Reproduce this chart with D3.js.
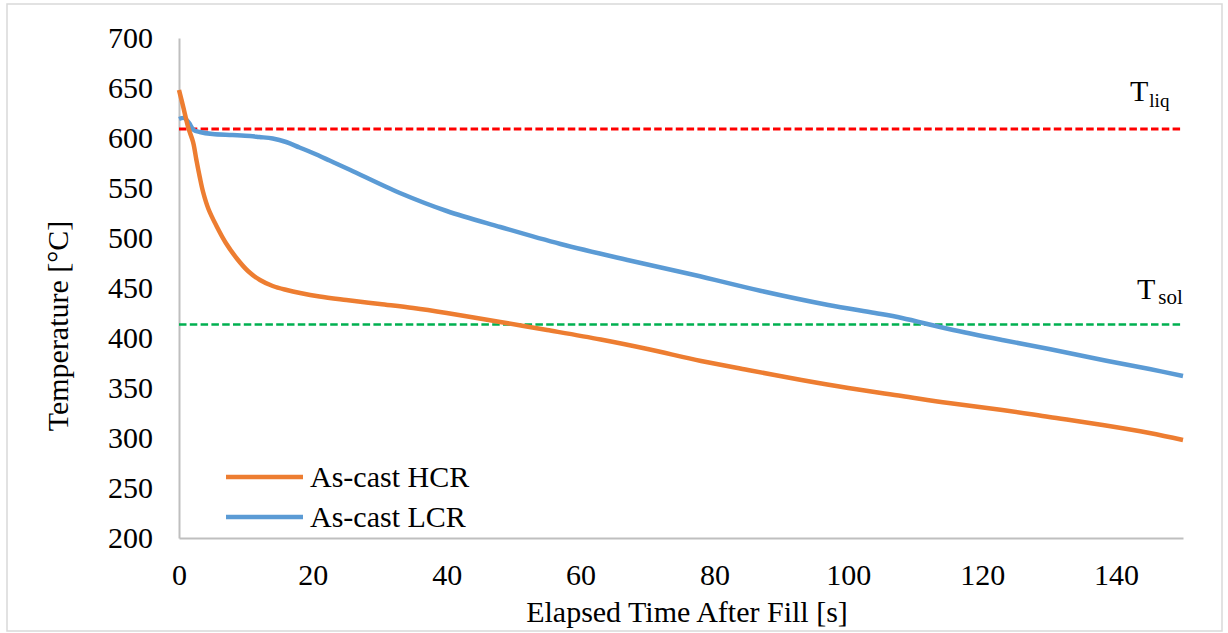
<!DOCTYPE html>
<html>
<head>
<meta charset="utf-8">
<script src="https://cdn.jsdelivr.net/npm/d3@7"></script>
<style>
  body { margin: 0; background: #fff; }
  svg { display: block; }
  svg text { font-family: "Liberation Serif", "Times New Roman", Tinos, "DejaVu Serif", serif !important; fill: #000; }
</style>
</head>
<body>
<div id="chart"></div>
<script>
// Elapsed time [s] and temperature [°C]
const hcrTime = [0, 0.6, 1.4, 2.1, 2.6, 3.1, 3.6, 4.4, 5.6, 7.0, 8.7, 10.3, 12.1, 14, 16.1, 18.1, 21, 25, 30, 35, 40, 48, 55, 63, 70, 78, 85, 93, 100, 108, 115, 123, 130, 138, 145, 150];
const hcrTemp = [648, 632, 610, 596, 578, 561, 546, 529, 512, 495, 479, 467, 458, 452, 448, 445, 441.5, 438, 434, 430, 425, 416, 408, 398.5, 389, 377, 368, 358, 350, 342, 335, 328, 321, 313, 305, 298];

const lcrTime = [0, 0.8, 1.5, 2.2, 3.1, 5, 8, 10.6, 12, 14, 16, 18, 20, 22.5, 25.6, 33, 40, 48, 57, 67, 77, 87, 97, 104, 108, 115, 123, 130, 138, 145, 150];
const lcrTemp = [619, 620, 615, 608, 606, 604, 603, 602, 601, 599.5, 596, 590.5, 585, 577.5, 568, 545, 527, 511, 494, 478, 463, 447, 433, 425, 420, 409, 398, 389, 378, 369, 362];

const seriesNames = ["As-cast HCR", "As-cast LCR"];
const seriesColors = ["#ED7D31", "#5B9BD5"];

const tLiq = 609;
const tSol = 413.5;

const xTicks = [0, 20, 40, 60, 80, 100, 120, 140];
const yTicks = [200, 250, 300, 350, 400, 450, 500, 550, 600, 650, 700];

const width = 1228, height = 633;
const margin = { top: 38, right: 45, bottom: 95, left: 179 };
const serif = "'Liberation Serif', 'Times New Roman', Tinos, 'DejaVu Serif', serif";

const svg = d3.select("#chart")
  .append("svg")
  .attr("width", width)
  .attr("height", height)
  .attr("font-family", serif);

// outer frame
svg.append("rect")
  .attr("x", 7).attr("y", 4)
  .attr("width", 1215).attr("height", 627)
  .attr("fill", "none")
  .attr("stroke", "#d9d9d9")
  .attr("stroke-width", 1.5);

const x = d3.scaleLinear().domain([0, 150]).range([margin.left, width - margin.right]);
const y = d3.scaleLinear().domain([200, 700]).range([height - margin.bottom, margin.top]);

// axes
const xAxis = svg.append("g")
  .attr("transform", `translate(0,${y(200)})`)
  .call(d3.axisBottom(x).tickValues(xTicks).tickSize(0).tickPadding(26));
const yAxis = svg.append("g")
  .attr("transform", `translate(${x(0)},0)`)
  .call(d3.axisLeft(y).tickValues(yTicks).tickSize(0).tickPadding(26));

[xAxis, yAxis].forEach((g) => {
  g.attr("font-family", serif).attr("font-size", 30);
  g.select(".domain").attr("stroke", "#bfbfbf").attr("stroke-width", 2);
  g.selectAll(".tick text").attr("fill", "#000");
});

// axis titles
svg.append("text")
  .attr("x", 687).attr("y", 622)
  .attr("text-anchor", "middle")
  .attr("font-size", 30)
  .text("Elapsed Time After Fill [s]");

svg.append("text")
  .attr("transform", "translate(68,326) rotate(-90)")
  .attr("text-anchor", "middle")
  .attr("font-size", 30)
  .text("Temperature [°C]");

// liquidus / solidus reference lines
svg.append("line")
  .attr("x1", x(0)).attr("x2", x(150))
  .attr("y1", y(tLiq)).attr("y2", y(tLiq))
  .attr("stroke", "#FF0000")
  .attr("stroke-width", 3)
  .attr("stroke-dasharray", "7.5 3.3");

svg.append("line")
  .attr("x1", x(0)).attr("x2", x(150))
  .attr("y1", y(tSol)).attr("y2", y(tSol))
  .attr("stroke", "#00B050")
  .attr("stroke-width", 2.5)
  .attr("stroke-dasharray", "7.5 3.3");

const liq = svg.append("text").attr("x", 1130).attr("y", 101).attr("font-size", 30);
liq.append("tspan").text("T");
liq.append("tspan").attr("dy", 6).attr("dx", 1).attr("font-size", 19).text("liq");

const sol = svg.append("text").attr("x", 1137).attr("y", 299).attr("font-size", 30);
sol.append("tspan").text("T");
sol.append("tspan").attr("dy", 5).attr("dx", 3).attr("font-size", 21).text("sol");

// curves
const line = d3.line()
  .x((d) => x(d[0]))
  .y((d) => y(d[1]))
  .curve(d3.curveCatmullRom.alpha(0.5));

const series = [
  d3.zip(hcrTime, hcrTemp),
  d3.zip(lcrTime, lcrTemp)
];

// draw LCR first so HCR sits on top where they cross
[1, 0].forEach((i) => {
  svg.append("path")
    .datum(series[i])
    .attr("fill", "none")
    .attr("stroke", seriesColors[i])
    .attr("stroke-width", 4.5)
    .attr("stroke-linejoin", "round")
    .attr("d", line);
});

// legend
const legend = svg.append("g");
seriesNames.forEach((name, i) => {
  const ly = 477 + i * 40;
  legend.append("line")
    .attr("x1", 226).attr("x2", 303)
    .attr("y1", ly).attr("y2", ly)
    .attr("stroke", seriesColors[i])
    .attr("stroke-width", 4.5);
  legend.append("text")
    .attr("x", 310).attr("y", ly + 10)
    .attr("font-size", 30)
    .text(name);
});
</script>
</body>
</html>
